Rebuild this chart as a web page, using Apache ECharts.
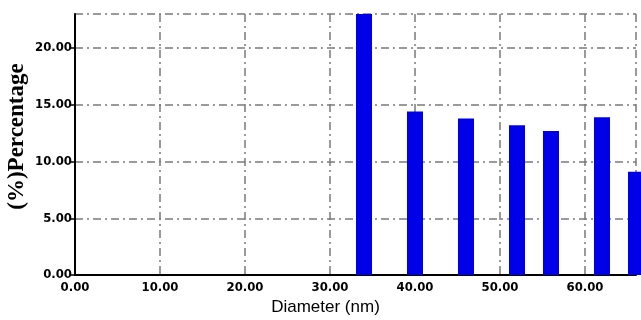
<!DOCTYPE html>
<html>
<head>
<meta charset="utf-8">
<script src="https://cdn.jsdelivr.net/npm/echarts@6/dist/echarts.min.js"></script>
<style>
  html, body { margin: 0; padding: 0; background: #fff; }
  #chart { width: 641px; height: 320px; }
</style>
</head>
<body>
<div id="chart"></div>
<script>
// particle size distribution
const diameters = [34, 40, 46, 52, 56, 62, 66];
const percentages = [23.0, 14.4, 13.8, 13.2, 12.7, 13.9, 9.1];

const myChart = echarts.init(document.getElementById('chart'));

const gridLine = {
  show: true,
  lineStyle: { color: '#7a7a7a', width: 1.5, type: [8, 4, 2, 4] }
};

const tickFont = {
  formatter: v => v.toFixed(2),
  fontFamily: 'DejaVu Sans Condensed',
  fontWeight: 'bold',
  fontSize: 13,
  color: '#000',
  showMaxLabel: false
};

var option = {
  animation: false,
  grid: { left: 75, right: 5, top: 14, bottom: 45, outerBoundsMode: 'none', containLabel: false },
  xAxis: {
    type: 'value',
    min: 0,
    max: 66,
    interval: 10,
    name: 'Diameter (nm)',
    nameLocation: 'middle',
    nameGap: 24,
    nameMoveOverlap: false,
    nameTextStyle: {
      fontFamily: 'Liberation Sans',
      fontSize: 17,
      color: '#000',
      padding: [0, 60, 0, 0]
    },
    axisLine: { lineStyle: { color: '#000', width: 2 } },
    axisTick: { show: false },
    axisLabel: Object.assign({ margin: 6 }, tickFont),
    splitLine: gridLine
  },
  yAxis: {
    type: 'value',
    min: 0,
    max: 23,
    interval: 5,
    name: '(%)Percentage',
    nameLocation: 'middle',
    nameGap: 46,
    nameMoveOverlap: false,
    nameTextStyle: {
      fontFamily: 'Liberation Serif',
      fontWeight: 'bold',
      fontSize: 23,
      color: '#000',
      padding: [0, 0, 0, 16]
    },
    axisLine: { show: true, lineStyle: { color: '#000', width: 2 } },
    axisTick: { show: true, length: 4, lineStyle: { color: '#000', width: 1.5 } },
    axisLabel: Object.assign({ margin: 3 }, tickFont),
    splitLine: gridLine
  },
  series: [{
    type: 'bar',
    clip: false,
    barWidth: 16,
    itemStyle: { color: '#0000e8' },
    data: diameters.map((d, i) => [d, percentages[i]])
  }]
};

myChart.setOption(option);
</script>
</body>
</html>
